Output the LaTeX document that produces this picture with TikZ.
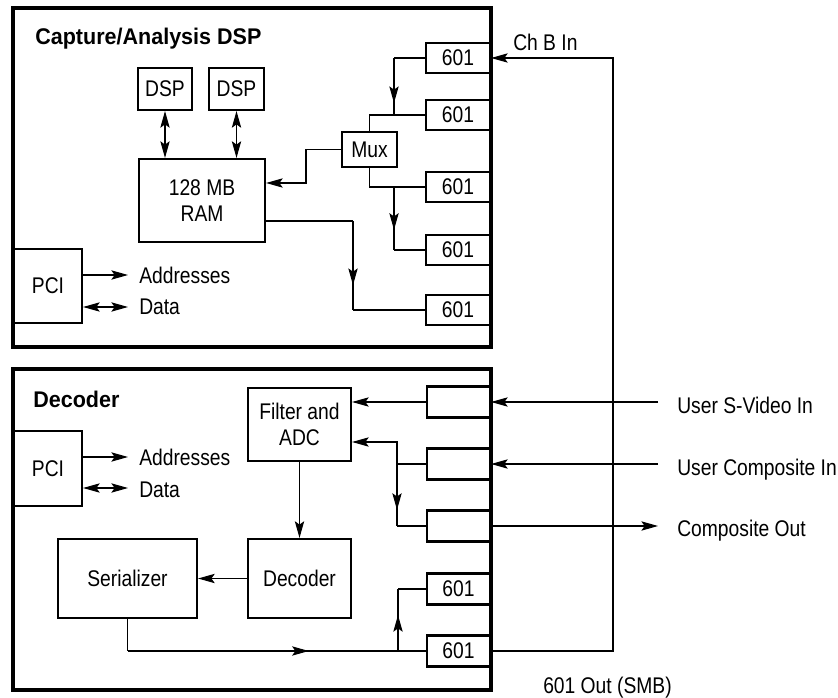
\documentclass[tikz,border=0pt]{standalone}
\usepackage{fontspec}
\setmainfont{Liberation Sans}[FakeStretch=0.85]
\newfontfamily\titlefont{Liberation Sans}[FakeStretch=0.95]
\usetikzlibrary{arrows.meta,decorations.markings}
\begin{document}
\begin{tikzpicture}[x=0.75pt,y=-0.75pt,
  font=\fontsize{17}{20}\selectfont,
  >={Stealth[length=12.5pt,width=7pt,inset=2.5pt]},
  conn/.style={line width=0.8pt},
  outerbox/.style={draw,line width=2.4pt,inner sep=0pt},
  blk/.style={draw,line width=1.6pt,inner sep=0pt,align=center},
  thinblk/.style={draw,line width=0.8pt,inner sep=0pt},
  lbl/.style={anchor=base west,inner sep=0pt},
  ttl/.style={anchor=base west,inner sep=0pt,font=\titlefont\bfseries\fontsize{17}{20}\selectfont},
  midarr/.style={postaction={decorate},decoration={markings,mark=at position #1 with {\arrow{>}}}}
]
\useasboundingbox (0,0) rectangle (838,698);

% ---------- top section ----------
\node[outerbox,minimum width=358.5pt,minimum height=254.25pt] (top) at (252,177.5) {};
\node[ttl] (ttop) at (35,45) {Capture/Analysis DSP};
\node[blk,minimum width=40.5pt,minimum height=31.5pt] (dsp1) at (165,89) {DSP};
\node[blk,minimum width=41.25pt,minimum height=31.5pt] (dsp2) at (236.5,89) {DSP};
\node[blk,minimum width=94.5pt,minimum height=62.25pt] (ram) at (202,200.5) {128 MB\\RAM};
\node[blk,minimum width=51pt,minimum height=55.5pt] (pci1) at (48,286) {PCI};
\node[thinblk,minimum width=41.25pt,minimum height=26.25pt] (mux) at (369.5,149.5) {Mux};
\foreach \n/\yy in {p1/58,p2/115,p3/187,p4/250,p5/310}
  \node[blk,minimum width=48pt,minimum height=22.5pt] (\n) at (458,\yy) {601};

\draw[conn,<->] (dsp1.south) -- (dsp1.south |- ram.north);
\draw[conn,<->] (dsp2.south) -- (dsp2.south |- ram.north);

\coordinate (j1) at (394,58);
\coordinate (j2) at (394,115);
\coordinate (j3) at (394,187);
\coordinate (j4) at (394,250);
\draw[conn] (p1.west) -- (j1);
\draw[conn,midarr=0.79] (j1) -- (j2);
\draw[conn] (p2.west) -| (mux.north);
\draw[conn] (mux.south) |- (p3.west);
\draw[conn,midarr=0.68] (j3) -- (j4);
\draw[conn] (j4) -- (p4.west);

\coordinate (m2) at (306,183);
\draw[conn,->] (mux.west) -| (m2) -- (m2 -| ram.east);

\coordinate (r1) at (353,221);
\coordinate (r2) at (353,310);
\draw[conn] (ram.east |- r1) -- (r1);
\draw[conn,midarr=0.72] (r1) -- (r2);
\draw[conn] (r2) -- (p5.west);

\coordinate (a1) at (128,275);
\coordinate (d1) at (128,307);
\draw[conn,->] (pci1.east |- a1) -- (a1);
\draw[conn,<->] (pci1.east |- d1) -- (d1);
\node[lbl] (la1) at (139,284) {Addresses};
\node[lbl] (ld1) at (139,315) {Data};

\node[lbl] (chb) at (513,51) {Ch B In};

% ---------- bottom section ----------
\node[outerbox,minimum width=358.5pt,minimum height=240.75pt] (bot) at (252,529.5) {};
\node[ttl] (tbot) at (33,407) {Decoder};
\node[blk,minimum width=51pt,minimum height=56.25pt] (pci2) at (48,468.5) {PCI};
\node[blk,minimum width=77.25pt,minimum height=54.75pt] (filt) at (299.5,424.5) {Filter and\\ADC};
\node[blk,minimum width=77.25pt,minimum height=59.25pt] (dec) at (299.5,578.5) {Decoder};
\node[blk,minimum width=104.25pt,minimum height=59.25pt] (ser) at (127.5,578.5) {Serializer};
\foreach \n/\yy in {b1/402,b2/464,b3/526}
  \node[blk,minimum width=47.25pt,minimum height=23.25pt] (\n) at (458.5,\yy) {};
\foreach \n/\yy in {b4/589,b5/651}
  \node[blk,minimum width=47.25pt,minimum height=23.25pt] (\n) at (458.5,\yy) {601};

\coordinate (a2) at (128,457);
\coordinate (d2) at (128,488);
\draw[conn,->] (pci2.east |- a2) -- (a2);
\draw[conn,<->] (pci2.east |- d2) -- (d2);
\node[lbl] (la2) at (139,465) {Addresses};
\node[lbl] (ld2) at (139,497) {Data};

\coordinate (k1) at (397,442);
\coordinate (k2) at (397,464);
\coordinate (k3) at (397,526);
\draw[conn,->] (b1.west) -- (b1.west -| filt.east);
\draw[conn] (b2.west) -- (k2);
\draw[conn,->] (k2) -- (k1) -- (k1 -| filt.east);
\draw[conn,midarr=0.74] (k2) -- (k3);
\draw[conn] (k3) -- (b3.west);
\draw[conn,->] (filt.south) -- (dec.north);
\draw[conn,->] (dec.west) -- (ser.east);

\coordinate (s2) at (398,651);
\coordinate (s3) at (398,589);
\draw[conn] (ser.south) -- (ser.south |- s2);
\draw[conn,midarr=0.67] (ser.south |- s2) -- (s2);
\draw[conn] (s2) -- (b5.west);
\draw[conn,midarr=0.58] (s2) -- (s3);
\draw[conn] (s3) -- (b4.west);

% ---------- external ----------
\coordinate (e1) at (658,402);
\coordinate (e2) at (658,464);
\coordinate (e3) at (658,526);
\draw[conn,->] (e1) -- (b1.east);
\draw[conn,->] (e2) -- (b2.east);
\draw[conn,->] (b3.east) -- (e3);
\node[lbl] (ls) at (677,413) {User S-Video In};
\node[lbl] (lc) at (677,475) {User Composite In};
\node[lbl] (lo) at (677,536) {Composite Out};

\coordinate (c2) at (613,58);
\draw[conn,->] (b5.east) -| (c2) -- (p1.east);
\node[lbl] (l601) at (543,693) {601 Out (SMB)};
\end{tikzpicture}
\end{document}
